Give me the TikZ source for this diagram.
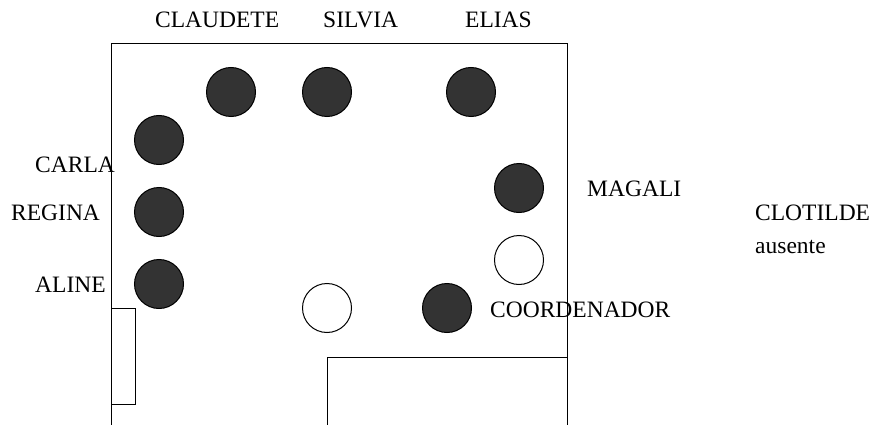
\documentclass[tikz,border=0pt]{standalone}
\usepackage{fontspec}
\setmainfont{Liberation Serif}
\usepackage{tikz}
\usetikzlibrary{positioning}
\definecolor{seatdark}{RGB}{51,51,51}

\begin{document}
\begin{tikzpicture}[x=1pt,y=-1pt,
    seat/.style={circle,draw=black,line width=1pt,minimum size=49pt,inner sep=0pt},
    seatfull/.style={seat,fill=seatdark},
    seatfree/.style={seat,fill=white},
    pname/.style={anchor=base west,inner sep=0pt,font=\fontsize{23.5}{28}\selectfont}]
    \useasboundingbox (0,0) rectangle (875,425);

    % Room
    \draw[line width=1pt] (111,425) -- (111,44) -- (567,44) -- (567,425);
    \draw[line width=1pt] (327,425) -- (327,357) -- (567,357);
    \draw[line width=1pt] (111,308) rectangle (135,404);

    % Seats
    \node[seatfull] (claudete) at (231,92) {};
    \node[seatfull] (silvia) at (327,92) {};
    \node[seatfull] (elias) at (471,92) {};
    \node[seatfull] (carla) at (159,140) {};
    \node[seatfull] (regina) at (159,212) {};
    \node[seatfull] (aline) at (159,284) {};
    \node[seatfull] (magali) at (519,188) {};
    \node[seatfree] (vago1) at (519,260) {};
    \node[seatfree] (vago2) at (327,308) {};
    \node[seatfull] (coord) at (447,308) {};

    % Names
    \node[pname] (tclaudete) at (155,28) {CLAUDETE};
    \node[pname] (tsilvia) at (323,28) {SILVIA};
    \node[pname] (telias) at (465,28) {ELIAS};
    \node[pname] (tcarla) at (35,172) {CARLA};
    \node[pname] (tregina) at (11,220) {REGINA};
    \node[pname] (taline) at (35,292) {ALINE};
    \node[pname] (tmagali) at (587,196) {MAGALI};
    \node[pname] (tclotilde) at (755,220) {CLOTILDE};
    \node[pname] (tausente) at (755,253) {ausente};
    \node[pname] (tcoord) at (490,317) {COORDENADOR};
\end{tikzpicture}
\end{document}
